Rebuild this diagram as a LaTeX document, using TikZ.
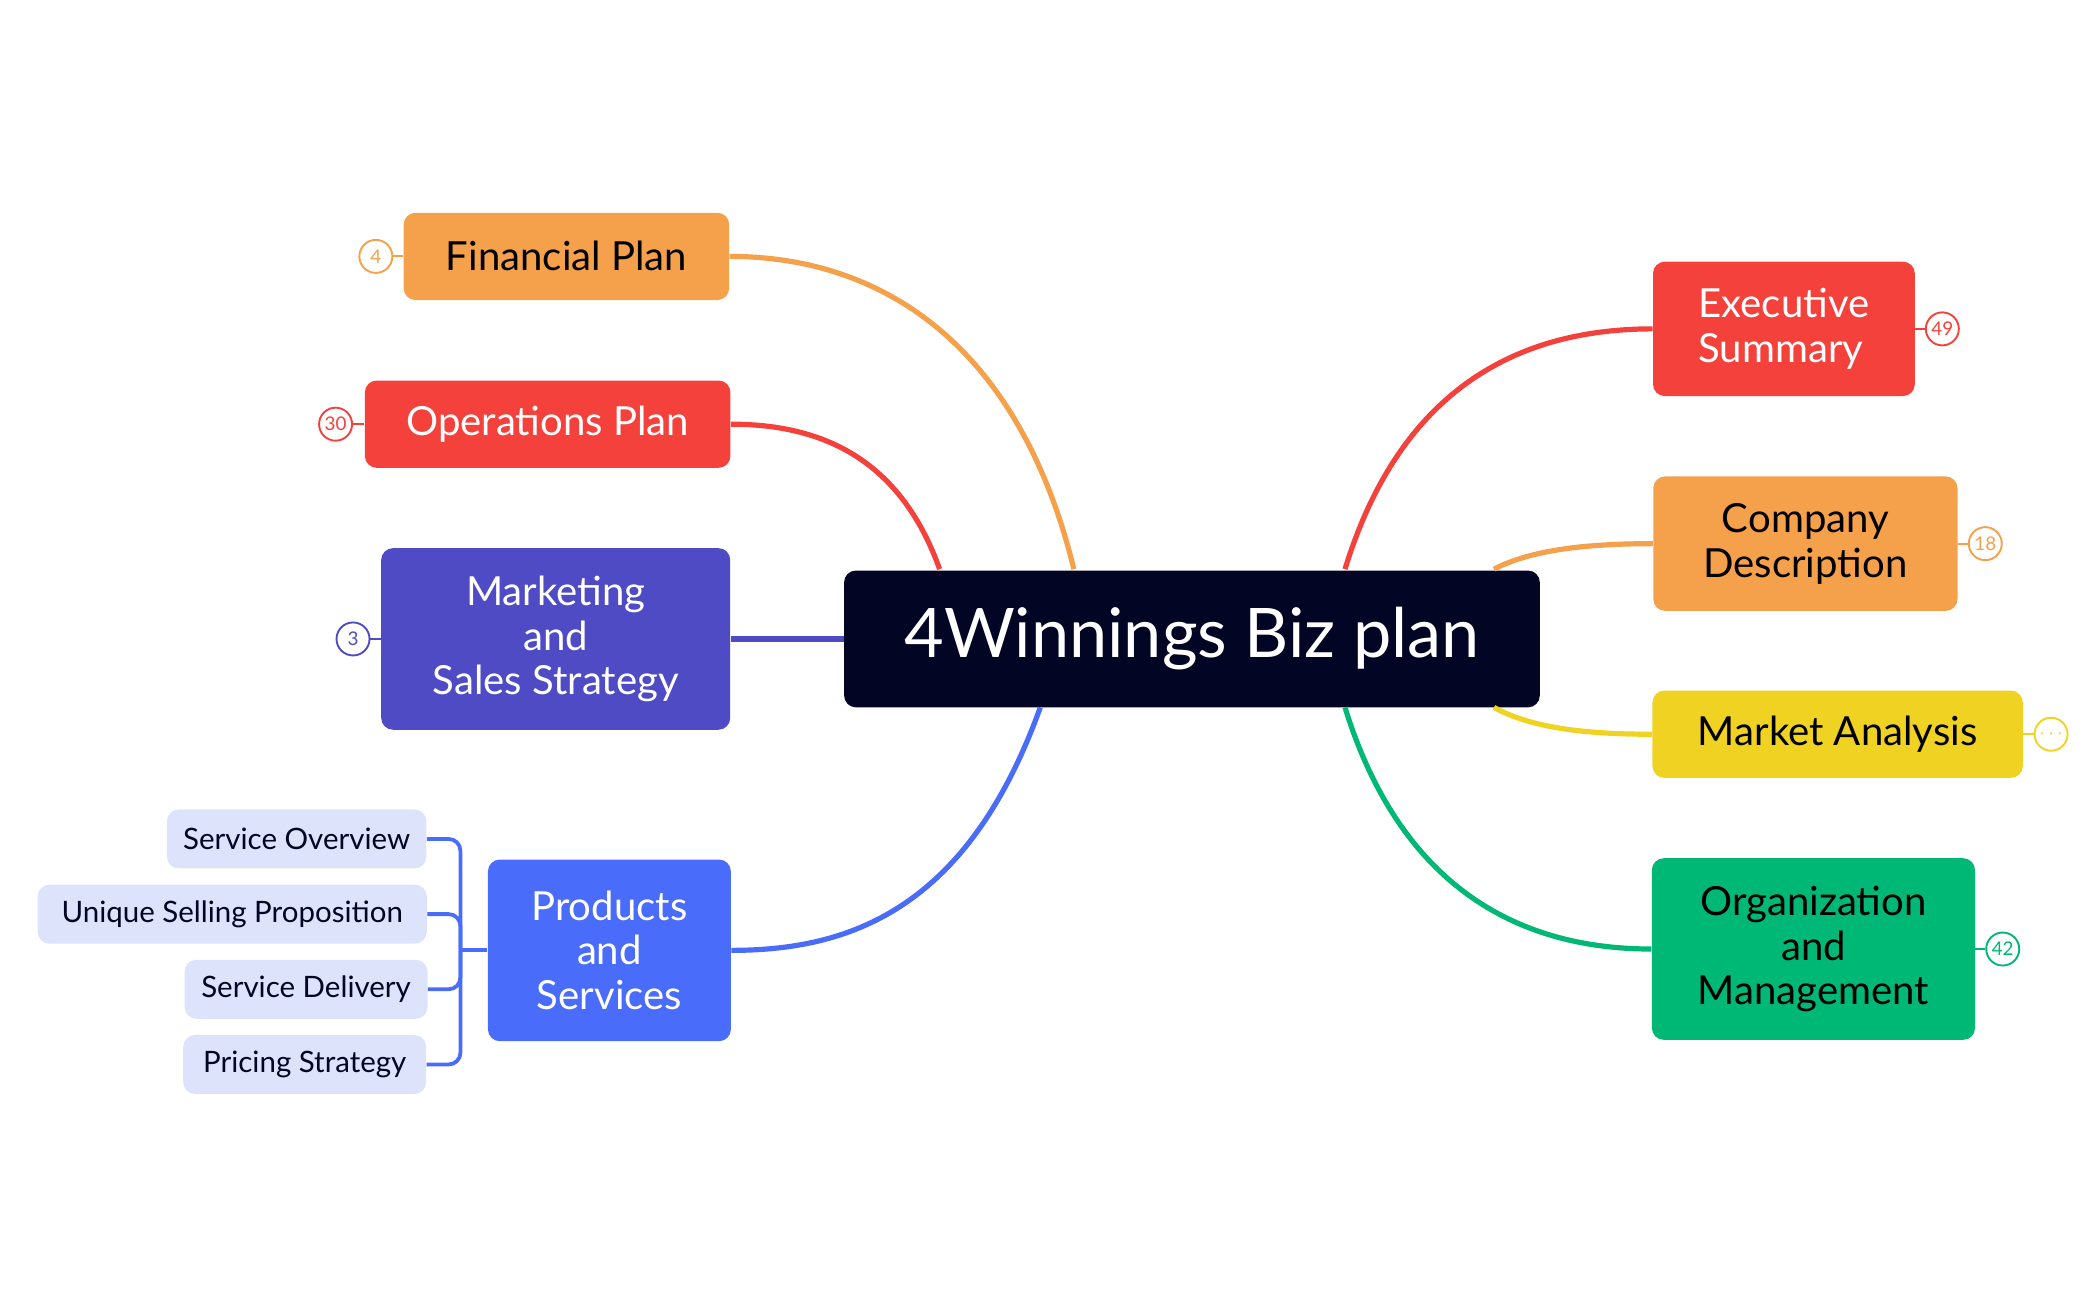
\documentclass[tikz,border=0pt]{standalone}
\usepackage{fontspec}
\setmainfont{Lato}
\definecolor{cnavy}{HTML}{020524}
\definecolor{corange}{HTML}{F5A04A}
\definecolor{cred}{HTML}{F5413B}
\definecolor{cindigo}{HTML}{4F4BC4}
\definecolor{cblue}{HTML}{4A6CFA}
\definecolor{cyellow}{HTML}{F0D322}
\definecolor{cgreen}{HTML}{00B876}
\definecolor{clight}{HTML}{DDE3FB}
\tikzset{
  box/.style={rounded corners=5pt, align=center, inner sep=0pt, font=\fontsize{17}{19}\selectfont},
  sub/.style={fill=clight, text=cnavy, rounded corners=5pt, inner sep=0pt, minimum height=25pt, font=\fontsize{12.5}{14}\selectfont},
  badge/.style={circle, draw=#1, text=#1, fill=white, thick, minimum size=14pt, inner sep=0pt, font=\fontsize{8}{9}\selectfont},
  link/.style={line width=2.2pt, #1}
}
\begin{document}
\begin{tikzpicture}[x=0.02cm, y=-0.02cm]
    \useasboundingbox (0,0) rectangle (1560,968);
    % center
    \node[box, fill=cnavy, text=white, minimum width=295pt, minimum height=58pt, font=\fontsize{29}{32}\selectfont] (main) at (888,476) {4Winnings Biz plan};
    % left branches
    \node[box, fill=corange, text=black, minimum width=138pt, minimum height=37pt] (fin) at (422,191) {Financial Plan};
    \node[box, fill=cred, text=white, minimum width=155pt, minimum height=37pt] (ops) at (408,316) {Operations Plan};
    \node[box, fill=cindigo, text=white, minimum width=148pt, minimum height=77pt] (mkt) at (414,476) {Marketing\\and\\Sales Strategy};
    \node[box, fill=cblue, text=white, minimum width=103pt, minimum height=77pt] (prd) at (454,708) {Products\\and\\Services};
    % right branches
    \node[box, fill=cred, text=white, minimum width=111pt, minimum height=57pt, align=left] (exe) at (1329,245) {Executive\\Summary};
    \node[box, fill=corange, text=black, minimum width=129pt, minimum height=57pt] (com) at (1345,405) {Company\\Description};
    \node[box, fill=cyellow, text=black, minimum width=157pt, minimum height=37pt] (mar) at (1369,547) {Market Analysis};
    \node[box, fill=cgreen, text=black, minimum width=137pt, minimum height=77pt] (org) at (1351,707) {Organization\\and\\Management};
    % sub items
    \node[sub, minimum width=110pt] (svo) at (221,625) {Service Overview};
    \node[sub, minimum width=165pt] (usp) at (173,681) {Unique Selling Proposition};
    \node[sub, minimum width=103pt] (svd) at (228,737) {Service Delivery};
    \node[sub, minimum width=103pt] (prs) at (227,793) {Pricing Strategy};
    % badges
    \node[badge=corange] (b1) at (280,191) {4};
    \node[badge=cred] (b2) at (250,316) {30};
    \node[badge=cindigo] (b3) at (263,476) {3};
    \node[badge=cred] (b4) at (1447,245) {49};
    \node[badge=corange] (b5) at (1479,405) {18};
    \node[badge=cyellow] (b6) at (1528,547) {$\cdots$};
    \node[badge=cgreen] (b7) at (1492,707) {42};
    % connectors
    \coordinate (mf) at (800,424);
    \coordinate (mo) at (700,424);
    \coordinate (mp) at (775,527);
    \coordinate (me) at (1002,424);
    \coordinate (mc) at (1113,424);
    \coordinate (mm) at (1113,527);
    \coordinate (mg) at (1002,527);
    \begin{scope}[on background layer/.style={}]
    \draw[link=corange] (mf) .. controls (760,260) and (660,191) .. (fin.east);
    \draw[link=cred] (mo) .. controls (670,340) and (610,316) .. (ops.east);
    \draw[link=cindigo] (main.west) -- (mkt.east);
    \draw[link=cblue] (mp) .. controls (720,680) and (630,708) .. (prd.east);
    \draw[link=cred] (me) .. controls (1040,300) and (1120,245) .. (exe.west);
    \draw[link=corange] (mc) .. controls (1140,410) and (1180,405) .. (com.west);
    \draw[link=cyellow] (mm) .. controls (1140,542) and (1180,547) .. (mar.west);
    \draw[link=cgreen] (mg) .. controls (1040,650) and (1120,707) .. (org.west);
    \end{scope}
    \draw[corange, thick] (b1) -- (fin.west);
    \draw[cred, thick] (b2) -- (ops.west);
    \draw[cindigo, thick] (b3) -- (mkt.west);
    \draw[cred, thick] (b4) -- (exe.east);
    \draw[corange, thick] (b5) -- (com.east);
    \draw[cyellow, thick] (b6) -- (mar.east);
    \draw[cgreen, thick] (b7) -- (org.east);
    % bracket
    \coordinate (br) at (343,708);
    \draw[cblue, line width=1.6pt] (prd.west) -- (br);
    \foreach \s in {svo,usp,svd,prs}
        \draw[cblue, line width=1.6pt, rounded corners=5pt] (br) |- (\s.east);
\end{tikzpicture}
\end{document}
